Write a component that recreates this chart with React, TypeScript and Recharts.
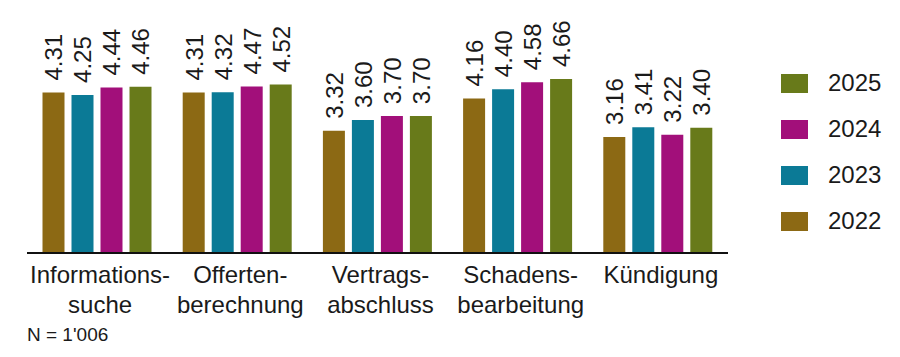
import { Bar, BarChart, LabelList, XAxis, YAxis } from "recharts";

const categories = [
  ["Informations-", "suche"],
  ["Offerten-", "berechnung"],
  ["Vertrags-", "abschluss"],
  ["Schadens-", "bearbeitung"],
  ["Kündigung"],
];
const years = ["2022", "2023", "2024", "2025"];
const values2022 = [4.31, 4.31, 3.32, 4.16, 3.16];
const values2023 = [4.25, 4.32, 3.6, 4.4, 3.41];
const values2024 = [4.44, 4.47, 3.7, 4.58, 3.22];
const values2025 = [4.46, 4.52, 3.7, 4.66, 3.4];
const colors = ["#8c6914", "#0b7a96", "#a20f7a", "#687a1a"];

const seriesValues = [values2022, values2023, values2024, values2025];

const data = categories.map((lines, i) => {
  const row: Record<string, any> = { name: lines.join("|") };
  years.forEach((y, j) => {
    row[y] = seriesValues[j][i];
  });
  return row;
});

const FONT = "'Liberation Sans', Arial, sans-serif";

function ValueLabel(props: any) {
  const { x, y, width, value } = props;
  const cx = x + width / 2 + 9;
  const cy = y - 12;
  return (
    <text
      x={cx}
      y={cy}
      transform={`rotate(-90, ${cx}, ${cy})`}
      textAnchor="start"
      fontSize={24}
      fontFamily={FONT}
      fill="#1a1a1a"
    >
      {Number(value).toFixed(2)}
    </text>
  );
}

function CategoryTick(props: any) {
  const { x, payload } = props;
  const lines = String(payload.value).split("|");
  return (
    <g>
      {lines.map((l, i) => (
        <text
          key={i}
          x={x + 3}
          y={283 + i * 30}
          textAnchor="middle"
          fontSize={24}
          fontFamily={FONT}
          fill="#1a1a1a"
        >
          {l}
        </text>
      ))}
    </g>
  );
}

function YearLegend() {
  const order = [...years].reverse();
  return (
    <div style={{ position: "absolute", left: 781, top: 60, fontFamily: FONT }}>
      {order.map((y) => {
        const c = colors[years.indexOf(y)];
        return (
          <div key={y} style={{ display: "flex", alignItems: "center", height: 46 }}>
            <div style={{ width: 27, height: 19, background: c, marginRight: 20 }} />
            <span style={{ fontSize: 24, color: "#1a1a1a" }}>{y}</span>
          </div>
        );
      })}
    </div>
  );
}

export default function App() {
  return (
    <div style={{ margin: -8, position: "relative", width: 900, height: 357, background: "#fff" }}>
      <BarChart
        width={900}
        height={357}
        data={data}
        margin={{ top: 66, right: 172, left: 27, bottom: 74 }}
        barCategoryGap={15.5}
        barGap={7}
      >
        <XAxis
          dataKey="name"
          tick={<CategoryTick />}
          tickLine={false}
          axisLine={{ stroke: "#111", strokeWidth: 2 }}
          interval={0}
          height={30}
        />
        <YAxis hide domain={[0.15, 5]} width={0} />
        {years.map((y, j) => (
          <Bar key={y} dataKey={y} fill={colors[j]} isAnimationActive={false}>
            <LabelList dataKey={y} content={<ValueLabel />} />
          </Bar>
        ))}
      </BarChart>
      <YearLegend />
      <div
        style={{
          position: "absolute",
          left: 27,
          top: 324,
          fontSize: 19,
          fontFamily: FONT,
          color: "#1a1a1a",
        }}
      >
        N = 1'006
      </div>
    </div>
  );
}
